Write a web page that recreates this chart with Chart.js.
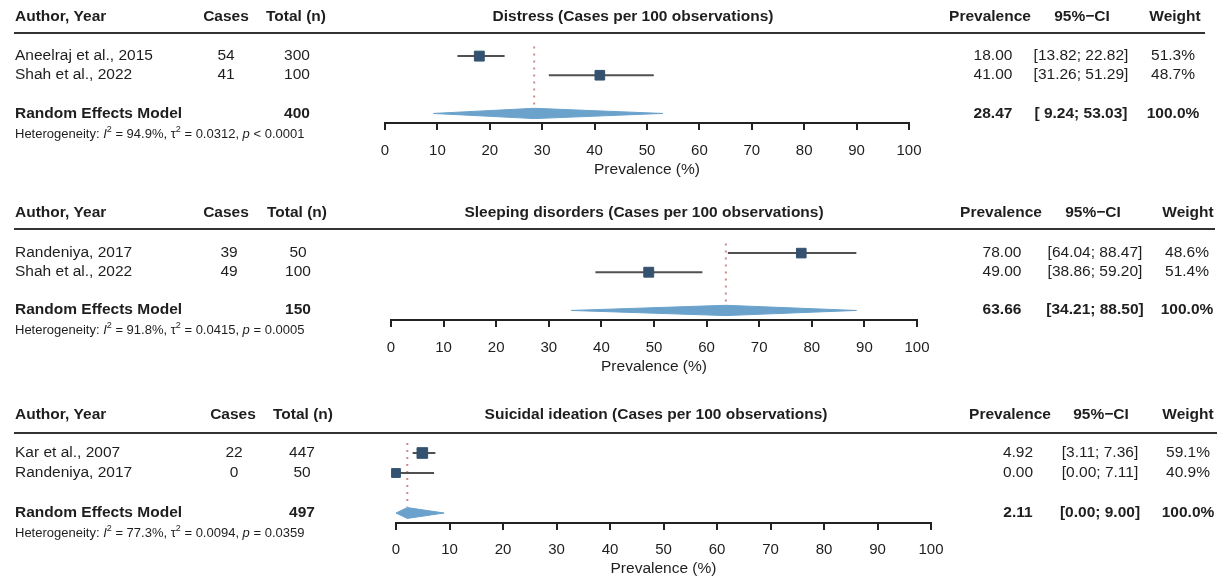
<!DOCTYPE html>
<html>
<head>
<meta charset="utf-8">
<script src="https://cdn.jsdelivr.net/npm/chart.js@4.4.0/dist/chart.umd.min.js"></script>
<style>
  html, body { margin: 0; padding: 0; background: #fff; }
  #wrap { position: relative; width: 1225px; height: 579px; overflow: hidden; background: #fff; }
  canvas { position: absolute; left: 0; }
</style>
</head>
<body>
<div id="wrap">
  <canvas id="panel0" width="1225" height="196" style="top:0px"></canvas>
  <canvas id="panel1" width="1225" height="197" style="top:196px"></canvas>
  <canvas id="panel2" width="1225" height="186" style="top:393px"></canvas>
</div>
<script>
// ---- data ----
const outcomes = ['Distress', 'Sleeping disorders', 'Suicidal ideation'];
const studies = [
    ['Aneelraj et al., 2015', 'Shah et al., 2022'],
    ['Randeniya, 2017', 'Shah et al., 2022'],
    ['Kar et al., 2007', 'Randeniya, 2017']
];
const cases = [[54, 41], [39, 49], [22, 0]];
const totals = [[300, 100], [50, 100], [447, 50]];
const prevalence = [[18.00, 41.00], [78.00, 49.00], [4.92, 0.00]];
const ciLow = [[13.82, 31.26], [64.04, 38.86], [3.11, 0.00]];
const ciHigh = [[22.82, 51.29], [88.47, 59.20], [7.36, 7.11]];
const weights = [[51.3, 48.7], [48.6, 51.4], [59.1, 40.9]];
const pooledN = [400, 150, 497];
const pooled = [28.47, 63.66, 2.11];
const pooledLow = [9.24, 34.21, 0.00];
const pooledHigh = [53.03, 88.50, 9.00];
const i2 = [94.9, 91.8, 77.3];
const tau2 = ['0.0312', '0.0415', '0.0094'];
const pValue = ['< 0.0001', '= 0.0005', '= 0.0359'];
const xTicks = [0, 10, 20, 30, 40, 50, 60, 70, 80, 90, 100];

// ---- layout (page pixels) ----
const panels = [
    { top: 0, height: 196, x0: 385, x1: 909, areaTop: 37, axisY: 123, axisH: 56, tickPad: 12,
      headY: 17, lineY: 33, lineEnd: 1205, rowY: [56, 75], reY: 114, hetY: 134, titleX: 633,
      casesHX: 226, casesX: 226, totalHX: 296, totalX: 297,
      prevHX: 990, prevX: 993, ciHX: 1082, ciX: 1081, wHX: 1175, wX: 1173 },
    { top: 196, height: 197, x0: 391, x1: 917, areaTop: 234, axisY: 320, axisH: 56, tickPad: 12,
      headY: 213, lineY: 229, lineEnd: 1215, rowY: [253, 272], reY: 310, hetY: 330, titleX: 644,
      casesHX: 226, casesX: 229, totalHX: 297, totalX: 298,
      prevHX: 1001, prevX: 1002, ciHX: 1093, ciX: 1095, wHX: 1188, wX: 1187 },
    { top: 393, height: 186, x0: 396, x1: 931, areaTop: 433, axisY: 523, axisH: 55, tickPad: 11,
      headY: 415, lineY: 433, lineEnd: 1217, rowY: [453, 473], reY: 513, hetY: 533, titleX: 656,
      casesHX: 233, casesX: 234, totalHX: 303, totalX: 302,
      prevHX: 1010, prevX: 1018, ciHX: 1101, ciX: 1100, wHX: 1188, wX: 1188 }
];

const FONT = '"Liberation Sans", Arial, Helvetica, sans-serif';
const TEXT = '#1e1e1e';
const SQUARE = '#34526f';
const CI_LINE = '#505050';
const DIAMOND = '#6aa2cc';
const REF_LINE = '#d38a8a';

function fmt(v) {
    return v.toFixed(2);
}

// CI strings padded like meta does, so the column lines up
function ciLabels(p) {
    const lows = ciLow[p].concat([pooledLow[p]]).map(fmt);
    const highs = ciHigh[p].concat([pooledHigh[p]]).map(fmt);
    const wl = Math.max(...lows.map(s => s.length));
    const wh = Math.max(...highs.map(s => s.length));
    return lows.map((lo, i) => '[' + lo.padStart(wl) + '; ' + highs[i].padStart(wh) + ']');
}

function text(ctx, str, x, y, align, bold) {
    ctx.font = (bold ? 'bold ' : '') + '15.5px ' + FONT;
    ctx.textAlign = align;
    ctx.fillText(str, x, y);
}

function drawHet(ctx, p, x, y) {
    const parts = [
        ['Heterogeneity: ', ''], ['I', 'italic'], ['2', 'sup'],
        [' = ' + i2[p].toFixed(1) + '%, \u03c4', ''], ['2', 'sup'],
        [' = ' + tau2[p] + ', ', ''], ['p', 'italic'], [' ' + pValue[p], '']
    ];
    ctx.textAlign = 'left';
    parts.forEach(([s, st]) => {
        let size = 13, dy = 0, style = '';
        if (st === 'sup') { size = 9; dy = -4.5; }
        if (st === 'italic') style = 'italic ';
        ctx.font = style + size + 'px ' + FONT;
        ctx.fillText(s, x, y + dy);
        x += ctx.measureText(s).width;
    });
}

const forestTable = {
    id: 'forestTable',
    afterDraw(chart, args, opts) {
        const p = opts.panel;
        const L = panels[p];
        const ctx = chart.ctx;
        const ci = ciLabels(p);
        ctx.save();
        ctx.translate(0, -L.top);
        ctx.fillStyle = TEXT;
        ctx.textBaseline = 'middle';

        // header row
        text(ctx, 'Author, Year', 15, L.headY, 'left', true);
        text(ctx, 'Cases', L.casesHX, L.headY, 'center', true);
        text(ctx, 'Total (n)', L.totalHX, L.headY, 'center', true);
        text(ctx, outcomes[p] + ' (Cases per 100 observations)', L.titleX, L.headY, 'center', true);
        text(ctx, 'Prevalence', L.prevHX, L.headY, 'center', true);
        text(ctx, '95%\u2212CI', L.ciHX, L.headY, 'center', true);
        text(ctx, 'Weight', L.wHX, L.headY, 'center', true);

        ctx.strokeStyle = '#333';
        ctx.lineWidth = 2;
        ctx.beginPath();
        ctx.moveTo(14, L.lineY);
        ctx.lineTo(L.lineEnd, L.lineY);
        ctx.stroke();

        // studies
        studies[p].forEach((s, i) => {
            const y = L.rowY[i];
            text(ctx, s, 15, y, 'left', false);
            text(ctx, String(cases[p][i]), L.casesX, y, 'center', false);
            text(ctx, String(totals[p][i]), L.totalX, y, 'center', false);
            text(ctx, fmt(prevalence[p][i]), L.prevX, y, 'center', false);
            text(ctx, ci[i], L.ciX, y, 'center', false);
            text(ctx, weights[p][i].toFixed(1) + '%', L.wX, y, 'center', false);
        });

        // pooled row
        const n = studies[p].length;
        text(ctx, 'Random Effects Model', 15, L.reY, 'left', true);
        text(ctx, String(pooledN[p]), L.totalX, L.reY, 'center', true);
        text(ctx, fmt(pooled[p]), L.prevX, L.reY, 'center', true);
        text(ctx, ci[n], L.ciX, L.reY, 'center', true);
        text(ctx, '100.0%', L.wX, L.reY, 'center', true);

        drawHet(ctx, p, 15, L.hetY);
        ctx.restore();
    }
};

function buildDatasets(p) {
    const ds = [];
    studies[p].forEach((s, i) => {
        ds.push({
            data: [{ x: ciLow[p][i], y: i + 1 }, { x: ciHigh[p][i], y: i + 1 }],
            showLine: true,
            borderColor: CI_LINE,
            borderWidth: 2,
            pointRadius: 0,
            clip: false,
            order: 2
        });
    });
    ds.push({
        data: prevalence[p].map((v, i) => ({ x: v, y: i + 1 })),
        pointStyle: 'rect',
        pointRadius: weights[p].map(w => 6.9 * Math.sqrt(w / 50)),
        backgroundColor: SQUARE,
        borderColor: SQUARE,
        borderWidth: 1,
        clip: false,
        order: 1
    });
    const h = 0.27; // diamond half height, in rows
    const yRE = studies[p].length + 2;
    ds.push({
        data: [
            { x: pooledLow[p], y: yRE },
            { x: pooled[p], y: yRE - h },
            { x: pooledHigh[p], y: yRE },
            { x: pooled[p], y: yRE + h },
            { x: pooledLow[p], y: yRE }
        ],
        showLine: true,
        fill: 'shape',
        backgroundColor: DIAMOND,
        borderColor: DIAMOND,
        borderWidth: 1,
        pointRadius: 0,
        clip: false,
        order: 3
    });
    ds.push({
        data: [{ x: pooled[p], y: 0.5 }, { x: pooled[p], y: yRE - 0.33 }],
        showLine: true,
        borderColor: REF_LINE,
        borderWidth: 2,
        borderDash: [2, 5],
        pointRadius: 0,
        order: 4
    });
    return ds;
}

function renderPanel(p) {
    const L = panels[p];
    const config = {
        type: 'scatter',
        data: { datasets: buildDatasets(p) },
        options: {
            responsive: false,
            animation: false,
            events: [],
            layout: {
                padding: {
                    left: L.x0,
                    right: 1225 - L.x1,
                    top: L.areaTop - L.top,
                    bottom: L.height - (L.axisY - L.top) - L.axisH
                }
            },
            plugins: {
                legend: { display: false },
                tooltip: { enabled: false },
                forestTable: { panel: p }
            },
            scales: {
                x: {
                    type: 'linear',
                    min: 0,
                    max: 100,
                    afterBuildTicks: (s) => { s.ticks = xTicks.map(v => ({ value: v })); },
                    afterFit: (s) => { s.height = L.axisH; },
                    grid: {
                        drawOnChartArea: false,
                        drawTicks: true,
                        tickLength: 7,
                        lineWidth: 2,
                        color: '#222'
                    },
                    border: { display: true, color: '#222', width: 2 },
                    ticks: {
                        color: TEXT,
                        padding: L.tickPad,
                        maxRotation: 0,
                        autoSkip: false,
                        font: { family: FONT, size: 15 }
                    },
                    title: {
                        display: true,
                        text: 'Prevalence (%)',
                        color: TEXT,
                        padding: { top: 0, bottom: 0 },
                        font: { family: FONT, size: 15.5 }
                    }
                },
                y: {
                    type: 'linear',
                    display: false,
                    reverse: true,
                    min: 0,
                    max: 4.5
                }
            }
        },
        plugins: [forestTable]
    };
    return new Chart(document.getElementById('panel' + p), config);
}

panels.forEach((L, p) => renderPanel(p));
</script>
</body>
</html>
